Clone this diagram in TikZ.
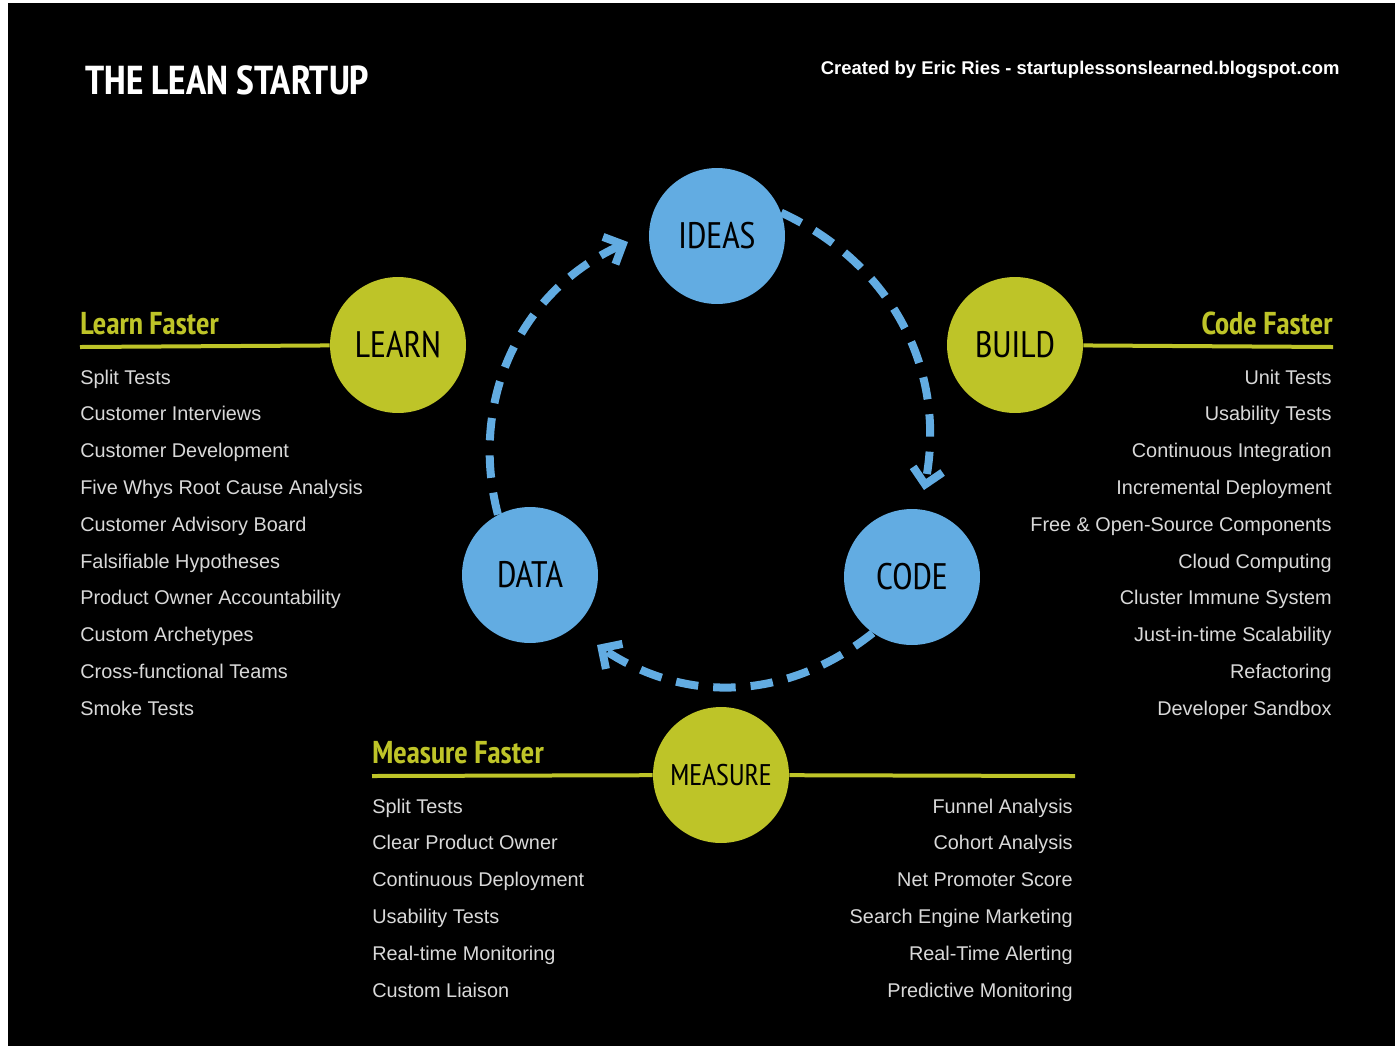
\documentclass[tikz,border=0pt]{standalone}
\usepackage{fontspec}
\setmainfont{Liberation Sans}
\newfontfamily\headfont{PT Sans Narrow}[Scale=1]
\newfontfamily\narrowfont{PT Sans}
\usetikzlibrary{arrows.meta}
\definecolor{leanblue}{RGB}{98,172,226}
\definecolor{leangreen}{RGB}{190,196,40}
\tikzset{
  bluestage/.style={circle,fill=leanblue,minimum size=2.72cm,inner sep=0pt,font=\headfont\fontsize{21}{21}\selectfont},
  greenstage/.style={circle,fill=leangreen,minimum size=2.72cm,inner sep=0pt,font=\headfont\fontsize{21}{21}\selectfont},
  heading/.style={text=leangreen,font=\headfont\bfseries\fontsize{18}{18}\selectfont,inner sep=0pt},
  item/.style={text=white!85!black,font=\fontsize{11.3}{11.3}\selectfont,inner sep=0pt},
  loop/.style={leanblue,line width=1.6mm,dash pattern=on 4.5mm off 3mm,-{Straight Barb[length=3mm,width=6mm]}},
  rule/.style={leangreen,line width=0.8mm}
}
\begin{document}
\begin{tikzpicture}[x=0.02cm,y=-0.02cm]
\fill[white] (0,0) rectangle (1400,1046);
\fill[black] (8,3) rectangle (1395,1046);
\useasboundingbox (0,0) rectangle (1400,1046);
% header
\node[anchor=west,text=white,font=\headfont\bfseries\fontsize{23}{23}\selectfont,inner sep=0pt] (title) at (85,80) {THE LEAN STARTUP};
\node[anchor=east,text=white,font=\bfseries\fontsize{10.5}{10.5}\selectfont,inner sep=0pt] (credit) at (1340,70) {Created by Eric Ries - startuplessonslearned.blogspot.com};
% headings and rules
\node[heading,anchor=south west] (learnhead) at (80,335) {Learn Faster};
\node[heading,anchor=south east] (buildhead) at (1333,335) {Code Faster};
\node[heading,anchor=south west] (measurehead) at (372,764) {Measure Faster};
\coordinate (learnl) at (80,347);
\coordinate (buildr) at (1333,347);
\coordinate (measl) at (372,776);
\coordinate (measr) at (1075,776);
% stages
\node[bluestage] (ideas) at (717,236) {IDEAS};
\node[bluestage] (code) at (912,577) {CODE};
\node[bluestage] (data) at (530,575) {DATA};
\node[greenstage] (learn) at (398,345) {LEARN};
\node[greenstage] (build) at (1015,345) {BUILD};
\node[greenstage,font=\headfont\fontsize{17}{17}\selectfont] (measure) at (721,775) {MEASURE};
\draw[rule] (learnl) -- (learn);
\draw[rule] (build) -- (buildr);
\draw[rule] (measl) -- (measure) -- (measr);
% cycle
\draw[loop] (ideas.20) to[bend left=38] (924,490);
\draw[loop] (code.235) to[bend left=36] (597,645);
\draw[loop] (data.118) to[bend left=40] (628,242);
% lists
\foreach \txt [count=\i] in {Split Tests,Customer Interviews,Customer Development,Five Whys Root Cause Analysis,Customer Advisory Board,Falsifiable Hypotheses,Product Owner Accountability,Custom Archetypes,Cross-functional Teams,Smoke Tests}
  \node[item,anchor=base west] (learn\i) at (80,{384+(\i-1)*36.8}) {\txt};
\foreach \txt [count=\i] in {Unit Tests,Usability Tests,Continuous Integration,Incremental Deployment,Free \& Open-Source Components,Cloud Computing,Cluster Immune System,Just-in-time Scalability,Refactoring,Developer Sandbox}
  \node[item,anchor=base east] (build\i) at (1332,{384+(\i-1)*36.8}) {\txt};
\foreach \txt [count=\i] in {Split Tests,Clear Product Owner,Continuous Deployment,Usability Tests,Real-time Monitoring,Custom Liaison}
  \node[item,anchor=base west] (measl\i) at (372,{813+(\i-1)*36.8}) {\txt};
\foreach \txt [count=\i] in {Funnel Analysis,Cohort Analysis,Net Promoter Score,Search Engine Marketing,Real-Time Alerting,Predictive Monitoring}
  \node[item,anchor=base east] (measr\i) at (1073,{813+(\i-1)*36.8}) {\txt};
\end{tikzpicture}
\end{document}
